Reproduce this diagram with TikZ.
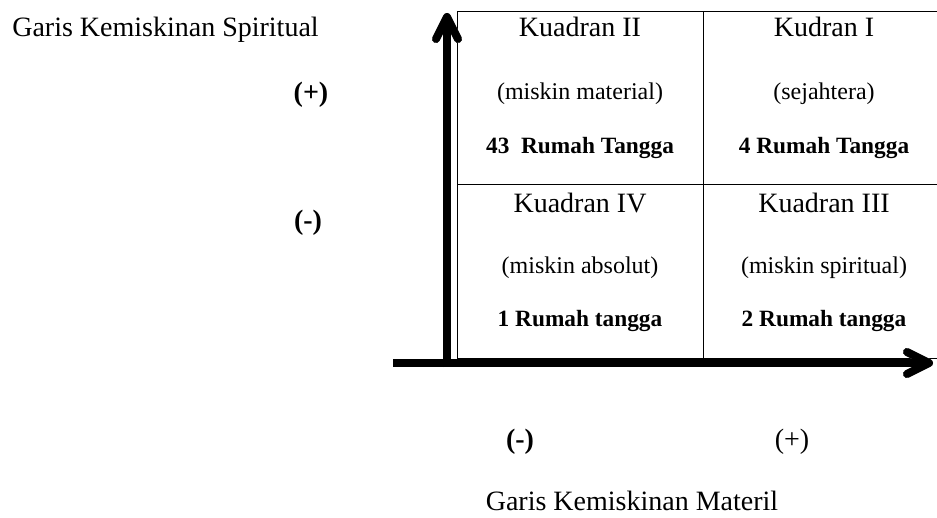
\documentclass[tikz,border=0pt]{standalone}
\usepackage{fontspec}
\setmainfont{Liberation Serif}
\usetikzlibrary{calc}

\begin{document}
\begin{tikzpicture}[x=0.75pt,y=-0.75pt,
  judul/.style={font=\fontsize{21}{25}\selectfont,inner sep=0pt,anchor=base},
  ket/.style={font=\fontsize{18}{21}\selectfont,inner sep=0pt,anchor=base},
  jumlah/.style={font=\fontsize{17.5}{21}\selectfont\bfseries,inner sep=0pt,anchor=base},
  tanda/.style={font=\fontsize{21}{25}\selectfont\bfseries,inner sep=0pt,anchor=base},
  garis/.style={line width=0.75pt},
  sumbu/.style={line width=6pt},
  kepala/.style={line width=6pt,line cap=round,line join=round}]

\useasboundingbox (0,0) rectangle (937,517);

% -----------------------
% Titik-titik kuadran
% -----------------------
\coordinate (A) at (457,11.5);
\coordinate (B) at (703,11.5);
\coordinate (C) at (937,11.5);
\coordinate (D) at (457,184);
\coordinate (E) at (937,184);
\coordinate (F) at (457,358);
\coordinate (G) at (703,358);
\coordinate (H) at (937,358);

% -----------------------
% Tabel kuadran
% -----------------------
\draw[garis] (A) -- (C);
\draw[garis] (D) -- (E);
\draw[garis] (F) -- (H);
\draw[garis] (A) -- (F);
\draw[garis] (B) -- (G);

% -----------------------
% Sumbu (dengan bayangan)
% -----------------------
\coordinate (pangkalX) at (393,363);
\coordinate (ujungX) at (929,363);
\coordinate (pangkalY) at (447,367);
\coordinate (ujungY) at (447,17);

\foreach \warna/\geser in {gray!65/3,black/0}{
\begin{scope}[shift={(0,\geser)}]
\draw[sumbu,\warna] (pangkalX) -- ($(ujungX)+(-3,0)$);
\draw[sumbu,\warna] (pangkalY) -- ($(ujungY)+(0,3)$);
\draw[kepala,\warna] (ujungX) ++(-22,-11) -- (ujungX) -- ++(-22,11);
\draw[kepala,\warna] (ujungY) ++(-11,22) -- (ujungY) -- ++(11,22);
\end{scope}
}

% -----------------------
% Isi kuadran
% -----------------------
\node[judul] (k2) at (580,37) {Kuadran II};
\node[ket] (k2ket) at (580,99) {(miskin material)};
\node[jumlah] (k2jml) at (580,153) {43\ \ Rumah Tangga};

\node[judul] (k1) at (824,37) {Kudran I};
\node[ket] (k1ket) at (824,99) {(sejahtera)};
\node[jumlah] (k1jml) at (824,153) {4 Rumah Tangga};

\node[judul] (k4) at (580,212) {Kuadran IV};
\node[ket] (k4ket) at (580,273) {(miskin absolut)};
\node[jumlah] (k4jml) at (580,326) {1 Rumah tangga};

\node[judul] (k3) at (824,212) {Kuadran III};
\node[ket] (k3ket) at (824,273) {(miskin spiritual)};
\node[jumlah] (k3jml) at (824,326) {2 Rumah tangga};

% -----------------------
% Label sumbu
% -----------------------
\node[judul] (spiritual) at (165.5,37) {Garis Kemiskinan Spiritual};
\node[tanda] (yplus) at (311,101) {(+)};
\node[tanda] (yminus) at (308,229) {(-)};

\node[tanda] (xminus) at (520,448) {(-)};
\node[judul] (xplus) at (792,448) {(+)};
\node[judul] (materil) at (632,510) {Garis Kemiskinan Materil};

\end{tikzpicture}
\end{document}
